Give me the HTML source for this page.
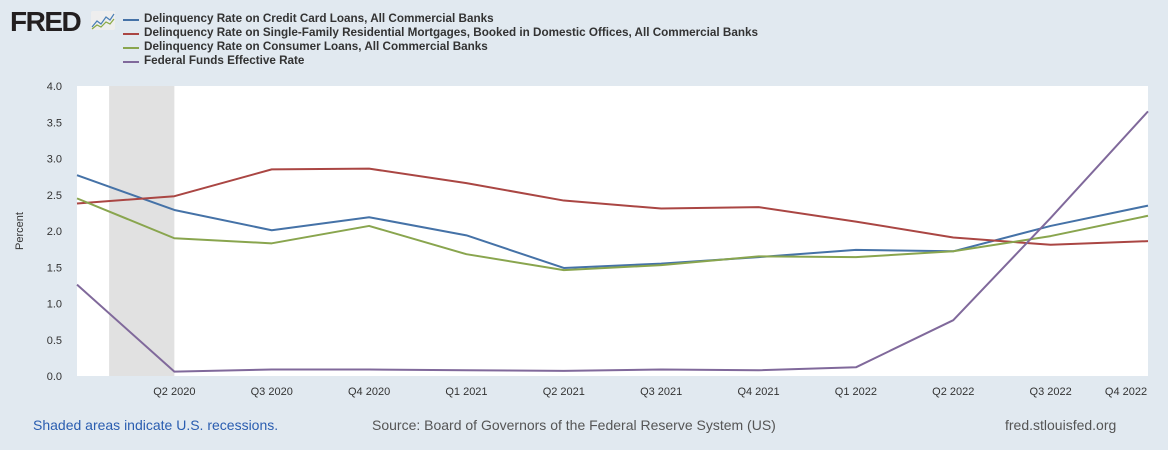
<!DOCTYPE html>
<html><head><meta charset="utf-8"><style>
body{margin:0;width:1168px;height:450px;background:#e1e9f0;font-family:"Liberation Sans",sans-serif;overflow:hidden;position:relative}
.leg{position:absolute;left:123px;font-size:11.7px;font-weight:bold;color:#333}
.leg i{position:absolute;left:0;top:7px;width:16px;height:2px}
.leg span{position:absolute;left:21px;white-space:nowrap;top:0}
.foot{position:absolute;top:417px;font-size:14px}
</style></head><body>
<div style="position:absolute;left:10px;top:6px;font-size:28px;font-weight:900;color:#231f20;letter-spacing:-1.5px">FRED</div>
<svg style="position:absolute;left:91px;top:11px" width="24" height="19"><rect width="24" height="19" fill="#eee" rx="2"/><polyline points="1,16 6,10 10,13 15,6 19,9 23,3" fill="none" stroke="#4a7fb5" stroke-width="1.2"/><polyline points="1,18 6,14 10,16 15,11 19,13 23,8" fill="none" stroke="#88a843" stroke-width="1.2"/></svg>
<div class="leg" style="top:12px"><i style="background:#4572a7"></i><span>Delinquency Rate on Credit Card Loans, All Commercial Banks</span></div>
<div class="leg" style="top:26px"><i style="background:#aa4643"></i><span>Delinquency Rate on Single-Family Residential Mortgages, Booked in Domestic Offices, All Commercial Banks</span></div>
<div class="leg" style="top:40px"><i style="background:#89a54e"></i><span>Delinquency Rate on Consumer Loans, All Commercial Banks</span></div>
<div class="leg" style="top:54px"><i style="background:#80699b"></i><span>Federal Funds Effective Rate</span></div>
<svg id="chart" style="position:absolute;left:0;top:0" width="1168" height="450"></svg>
<div class="foot" style="left:33px;color:#2a5db0">Shaded areas indicate U.S. recessions.</div>
<div class="foot" style="left:372px;color:#555">Source: Board of Governors of the Federal Reserve System (US)</div>
<div class="foot" style="left:1005px;color:#555">fred.stlouisfed.org</div>
<script>
const quarters=["Q1 2020","Q2 2020","Q3 2020","Q4 2020","Q1 2021","Q2 2021","Q3 2021","Q4 2021","Q1 2022","Q2 2022","Q3 2022","Q4 2022"];
const creditCard=[2.77,2.29,2.01,2.19,1.94,1.49,1.55,1.64,1.74,1.72,2.07,2.35];
const mortgage=[2.38,2.48,2.85,2.86,2.66,2.42,2.31,2.33,2.13,1.91,1.81,1.86];
const consumer=[2.45,1.90,1.83,2.07,1.68,1.46,1.53,1.65,1.64,1.72,1.93,2.21];
const fedFunds=[1.26,0.06,0.09,0.09,0.08,0.07,0.09,0.08,0.12,0.77,2.18,3.65];
const yTicks=["0.0","0.5","1.0","1.5","2.0","2.5","3.0","3.5","4.0"];
const recession=[0.33,1.0];
const svg=document.getElementById('chart');const NS='http://www.w3.org/2000/svg';
const L=77,R=1148,T=86,B=376;
const x=i=>L+(R-L)*i/(quarters.length-1);
const y=v=>B-(B-T)*v/4;
function mk(t,a){const e=document.createElementNS(NS,t);for(const k in a)e.setAttribute(k,a[k]);svg.appendChild(e);return e;}
let bg=mk('rect',{x:L,y:T,width:R-L,height:B-T,fill:'#fff'});


let rec=mk('rect',{x:x(recession[0]),y:T,width:x(recession[1])-x(recession[0]),height:B-T,fill:'#e1e1e1'});


yTicks.forEach(t=>{const v=parseFloat(t);
 let tx=mk('text',{x:62,y:y(v)+4,'text-anchor':'end','font-size':11,fill:'#333','font-family':'Liberation Sans'});
 tx.textContent=t;
 
 });
quarters.forEach((q,i)=>{if(i==0)return;
 let tx=mk('text',{x:i==quarters.length-1?x(i)-22:x(i),y:395,'text-anchor':'middle','font-size':11,fill:'#333','font-family':'Liberation Sans'});
 tx.textContent=q;
 
 });
let yt=mk('text',{x:23,y:231,'text-anchor':'middle','font-size':11,fill:'#333','font-family':'Liberation Sans',transform:'rotate(-90 23 231)'});
yt.textContent='Percent';


[[creditCard,'#4572a7','line-credit-card'],[mortgage,'#aa4643','line-mortgage'],[consumer,'#89a54e','line-consumer'],[fedFunds,'#80699b','line-fed-funds']].forEach(([d,c,n])=>{
 let p=mk('polyline',{points:d.map((v,i)=>x(i)+','+y(v)).join(' '),fill:'none',stroke:c,'stroke-width':2,'stroke-linejoin':'round'});
 
 });
</script>
</body></html>
